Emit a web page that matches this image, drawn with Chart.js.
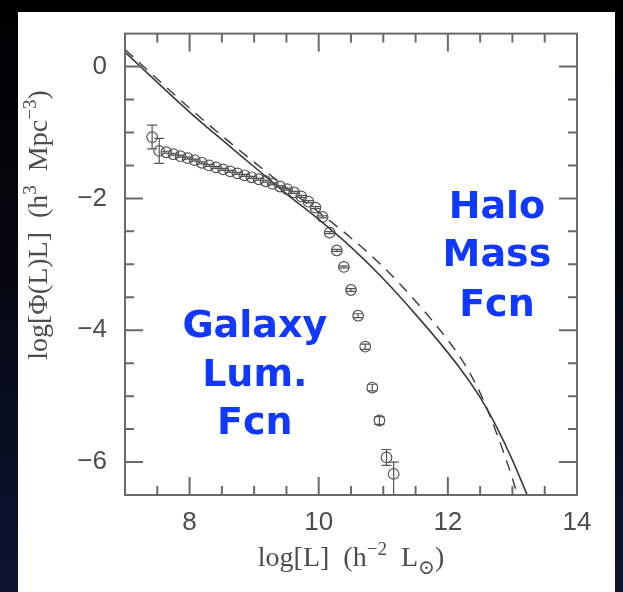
<!DOCTYPE html>
<html>
<head>
<meta charset="utf-8">
<script src="https://cdn.jsdelivr.net/npm/chart.js@4.4.1/dist/chart.umd.min.js"></script>
<style>
  html, body { margin: 0; padding: 0; width: 623px; height: 592px; overflow: hidden;
    background: linear-gradient(180deg, #000 0%, #04060d 35%, #0c1430 100%); }
  #panel { position: absolute; left: 18px; top: 12px; width: 597px; height: 580px; background: #fff; }
  #wrap { position: absolute; left: 0; top: 0; width: 623px; height: 592px; }
</style>
</head>
<body>
<div id="panel"></div>
<div id="wrap"><canvas id="c" width="623" height="592"></canvas></div>
<script>
// Galaxy luminosity function: log L bins, log[Phi(L) L] and error bars
const lumBins = [7.42, 7.53, 7.64, 7.75, 7.86, 7.97, 8.08, 8.19, 8.30, 8.41, 8.52, 8.63,
  8.74, 8.85, 8.96, 9.07, 9.18, 9.29, 9.40, 9.51, 9.62, 9.73, 9.84, 9.95, 10.06, 10.17,
  10.28, 10.39, 10.50, 10.61, 10.72, 10.83, 10.94, 11.05, 11.16];
const galaxyPhi = [-1.07, -1.28, -1.30, -1.33, -1.36, -1.39, -1.42, -1.46, -1.50, -1.53,
  -1.56, -1.59, -1.62, -1.65, -1.68, -1.71, -1.74, -1.78, -1.82, -1.86, -1.91, -1.97,
  -2.05, -2.14, -2.28, -2.52, -2.79, -3.04, -3.39, -3.78, -4.25, -4.87, -5.37, -5.93, -6.18];
const galaxyErrUp = [0.18, 0.19, 0.015, 0.015, 0.015, 0.015, 0.015, 0.015, 0.015, 0.015,
  0.015, 0.015, 0.015, 0.015, 0.015, 0.015, 0.015, 0.015, 0.015, 0.015, 0.015, 0.015,
  0.015, 0.015, 0.015, 0.015, 0.015, 0.015, 0.02, 0.03, 0.04, 0.05, 0.06, 0.12, 0.18];
const galaxyErrDown = [0.18, 0.19, 0.015, 0.015, 0.015, 0.015, 0.015, 0.015, 0.015, 0.015,
  0.015, 0.015, 0.015, 0.015, 0.015, 0.015, 0.015, 0.015, 0.015, 0.015, 0.015, 0.015,
  0.015, 0.015, 0.015, 0.015, 0.015, 0.015, 0.02, 0.03, 0.04, 0.05, 0.06, 0.12, 0.33];

// Halo mass function mapped onto luminosity (solid and dashed versions)
const haloLogL = [7.0, 7.5, 8.0, 8.5, 9.0, 9.5, 10.0, 10.5, 11.0, 11.5, 12.0, 12.25, 12.5, 12.75, 13.0, 13.25];
const haloPhi = [0.22, -0.24, -0.69, -1.11, -1.52, -1.93, -2.32, -2.74, -3.22, -3.76, -4.34, -4.66, -5.02, -5.46, -5.97, -6.55];
const haloAltLogL = [7.0, 7.5, 8.0, 8.5, 9.0, 9.5, 10.0, 10.5, 11.0, 11.5, 12.0, 12.25, 12.5, 12.75, 13.0, 13.15];
const haloAltPhi = [0.26, -0.19, -0.63, -1.05, -1.45, -1.84, -2.21, -2.60, -3.04, -3.56, -4.15, -4.50, -4.95, -5.55, -6.25, -6.75];

// Axis ticks
const xTickValues = [8, 10, 12, 14];
const xMinorTicks = [7.5, 8.5, 9, 9.5, 10.5, 11, 11.5, 12.5, 13, 13.5];
const yTickValues = [0, -2, -4, -6];
const yMinorTicks = [-0.5, -1, -1.5, -2.5, -3, -3.5, -4.5, -5, -5.5];

// Annotation words
const galaxyWords = ['Galaxy', 'Lum.', 'Fcn'];
const haloWords = ['Halo', 'Mass', 'Fcn'];

const AXIS_GREY = '#6a6a6a';
const TEXT_GREY = '#4d4d4d';
const SERIF = "'Liberation Serif', 'DejaVu Serif', serif";
const SANS = "'Liberation Sans', 'DejaVu Sans', sans-serif";

const fmtTick = v => (v < 0 ? '\u2212' + Math.abs(v) : String(v));

function richWidth(ctx, segs, size) {
  let w = 0;
  segs.forEach(s => { ctx.font = (size * s.s) + 'px ' + SERIF; w += ctx.measureText(s.t).width; });
  return w;
}
function drawRich(ctx, segs, cx, baseY, size) {
  let x = cx - richWidth(ctx, segs, size) / 2;
  ctx.textAlign = 'left';
  ctx.textBaseline = 'alphabetic';
  segs.forEach(s => {
    ctx.font = (size * s.s) + 'px ' + SERIF;
    ctx.fillText(s.t, x, baseY + s.dy * size);
    x += ctx.measureText(s.t).width;
  });
}

// Error bars for the galaxy points, placed through the chart scales
const errorBars = {
  id: 'errorBars',
  afterDatasetsDraw(chart) {
    const { ctx, chartArea, scales: { x, y } } = chart;
    ctx.save();
    ctx.beginPath();
    ctx.rect(chartArea.left, chartArea.top, chartArea.right - chartArea.left, chartArea.bottom - chartArea.top);
    ctx.clip();
    ctx.strokeStyle = '#555';
    ctx.lineWidth = 1.2;
    lumBins.forEach((lx, i) => {
      const px = x.getPixelForValue(lx);
      const yTop = y.getPixelForValue(galaxyPhi[i] + galaxyErrUp[i]);
      const yBot = y.getPixelForValue(galaxyPhi[i] - galaxyErrDown[i]);
      ctx.beginPath();
      ctx.moveTo(px, yTop); ctx.lineTo(px, yBot);
      ctx.moveTo(px - 5, yTop); ctx.lineTo(px + 5, yTop);
      ctx.moveTo(px - 5, yBot); ctx.lineTo(px + 5, yBot);
      ctx.stroke();
    });
    ctx.restore();
  }
};

// Boxed frame with inward ticks on all four sides, axis titles and annotations
const frame = {
  id: 'frame',
  afterDraw(chart) {
    const { ctx, chartArea: a, scales: { x, y } } = chart;
    ctx.save();
    ctx.strokeStyle = AXIS_GREY;
    ctx.lineWidth = 2;
    ctx.strokeRect(a.left, a.top, a.right - a.left, a.bottom - a.top);
    const major = 18, minor = 9;
    ctx.beginPath();
    const xTick = (v, len) => {
      const px = x.getPixelForValue(v);
      ctx.moveTo(px, a.bottom); ctx.lineTo(px, a.bottom - len);
      ctx.moveTo(px, a.top); ctx.lineTo(px, a.top + len);
    };
    const yTick = (v, len) => {
      const py = y.getPixelForValue(v);
      ctx.moveTo(a.left, py); ctx.lineTo(a.left + len, py);
      ctx.moveTo(a.right, py); ctx.lineTo(a.right - len, py);
    };
    xTickValues.forEach(v => xTick(v, major));
    xMinorTicks.forEach(v => xTick(v, minor));
    yTickValues.forEach(v => yTick(v, major));
    yMinorTicks.forEach(v => yTick(v, minor));
    ctx.stroke();

    // axis titles
    ctx.fillStyle = TEXT_GREY;
    const size = 28;
    drawRich(ctx, [
      { t: 'log[L]  (h', s: 1, dy: 0 },
      { t: '\u22122', s: 0.68, dy: -0.38 },
      { t: '  L', s: 1, dy: 0 },
      { t: '\u2299', s: 0.72, dy: 0.28 },
      { t: ')', s: 1, dy: 0 }
    ], (a.left + a.right) / 2, 566, size);

    ctx.save();
    ctx.translate(47, 225);
    ctx.rotate(-Math.PI / 2);
    drawRich(ctx, [
      { t: 'log[\u03A6(L)L]  (h', s: 1, dy: 0 },
      { t: '3', s: 0.68, dy: -0.38 },
      { t: '  Mpc', s: 1, dy: 0 },
      { t: '\u22123', s: 0.68, dy: -0.38 },
      { t: ')', s: 1, dy: 0 }
    ], 0, 0, size);
    ctx.restore();

    // annotations, anchored in data coordinates
    ctx.fillStyle = '#1038ff';
    ctx.font = "bold 38px 'DejaVu Sans', sans-serif";
    ctx.textAlign = 'center';
    ctx.textBaseline = 'middle';
    const gx = x.getPixelForValue(9.01);
    [-3.96, -4.70, -5.42].forEach((v, i) => ctx.fillText(galaxyWords[i], gx, y.getPixelForValue(v)));
    const hx = x.getPixelForValue(12.76);
    [-2.15, -2.87, -3.63].forEach((v, i) => ctx.fillText(haloWords[i], hx, y.getPixelForValue(v)));
    ctx.restore();
  }
};

const ctx = document.getElementById('c').getContext('2d');
new Chart(ctx, {
  type: 'scatter',
  data: {
    datasets: [
      {
        label: 'Halo mass function',
        type: 'line',
        data: haloLogL.map((v, i) => ({ x: v, y: haloPhi[i] })),
        borderColor: '#3c3c3c',
        borderWidth: 1.6,
        pointRadius: 0,
        cubicInterpolationMode: 'monotone',
        fill: false
      },
      {
        label: 'Halo mass function (alt)',
        type: 'line',
        data: haloAltLogL.map((v, i) => ({ x: v, y: haloAltPhi[i] })),
        borderColor: '#3c3c3c',
        borderWidth: 1.4,
        borderDash: [11, 8],
        pointRadius: 0,
        cubicInterpolationMode: 'monotone',
        fill: false
      },
      {
        label: 'Galaxy luminosity function',
        data: lumBins.map((v, i) => ({ x: v, y: galaxyPhi[i] })),
        pointRadius: 5.3,
        pointBorderWidth: 1.2,
        pointBorderColor: '#555',
        pointBackgroundColor: 'rgba(0,0,0,0)',
        showLine: false
      }
    ]
  },
  options: {
    responsive: false,
    animation: false,
    devicePixelRatio: 1,
    layout: { padding: { left: 0, top: 29, right: 46, bottom: 0 } },
    plugins: { legend: { display: false }, tooltip: { enabled: false } },
    scales: {
      x: {
        type: 'linear', min: 7, max: 14,
        afterBuildTicks: s => { s.ticks = xTickValues.map(v => ({ value: v })); },
        afterFit: s => { s.height = 97; },
        grid: { display: false, drawTicks: false },
        border: { display: false },
        ticks: { padding: 12, color: TEXT_GREY, maxRotation: 0, autoSkip: false,
          font: { family: SANS, size: 26 }, callback: fmtTick }
      },
      y: {
        type: 'linear', min: -6.5, max: 0.5,
        afterBuildTicks: s => { s.ticks = yTickValues.map(v => ({ value: v })); },
        afterFit: s => { s.width = 125; },
        grid: { display: false, drawTicks: false },
        border: { display: false },
        ticks: { padding: 18, color: TEXT_GREY, autoSkip: false,
          font: { family: SANS, size: 26 }, callback: fmtTick }
      }
    }
  },
  plugins: [errorBars, frame]
});
</script>
</body>
</html>
